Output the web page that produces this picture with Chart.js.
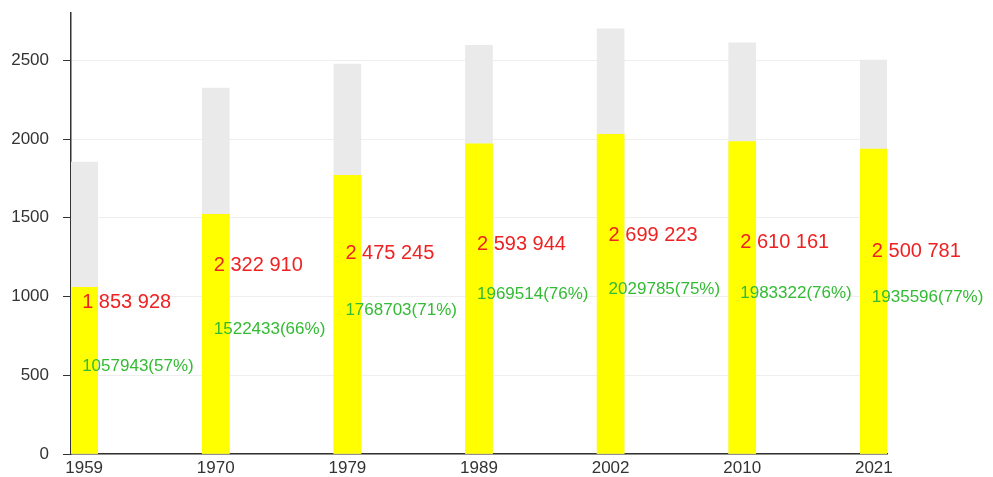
<!DOCTYPE html>
<html>
<head>
<meta charset="utf-8">
<script src="https://cdn.jsdelivr.net/npm/chart.js@4/dist/chart.umd.min.js"></script>
<style>
  html, body { margin: 0; padding: 0; background: #fff; }
  #wrap { width: 993px; height: 477px; }
</style>
</head>
<body>
<div id="wrap"><canvas id="popChart"></canvas></div>
<script>
// census years, total population, urban population
var years = ["1959", "1970", "1979", "1989", "2002", "2010", "2021"];
var totalPop = [1853928, 2322910, 2475245, 2593944, 2699223, 2610161, 2500781];
var urbanPop = [1057943, 1522433, 1768703, 1969514, 2029785, 1983322, 1935596];
var yTicks = [0, 500, 1000, 1500, 2000, 2500];

var FONT = "'Liberation Sans', Arial, sans-serif";

function spaced(n){
  return String(n).replace(/\B(?=(\d{3})+(?!\d))/g, " ");
}

// red total and green urban labels, drawn at half bar height
var valueLabels = {
  id: "valueLabels",
  afterDatasetsDraw: function(chart){
    var ctx = chart.ctx;
    var xs = chart.scales.x, ys = chart.scales.y;
    ctx.save();
    ctx.textAlign = "left";
    ctx.textBaseline = "alphabetic";
    for (var i = 0; i < years.length; i++){
      var px = xs.getPixelForValue(i) - 2;
      ctx.font = "20px " + FONT;
      ctx.fillStyle = "#ee2222";
      ctx.fillText(spaced(totalPop[i]), px, ys.getPixelForValue(totalPop[i] / 2));
      var pct = Math.round(urbanPop[i] / totalPop[i] * 100);
      ctx.font = "17px " + FONT;
      ctx.fillStyle = "#33bb33";
      ctx.fillText(urbanPop[i] + "(" + pct + "%)", px, ys.getPixelForValue(urbanPop[i] / 2));
    }
    ctx.restore();
  }
};

new Chart(document.getElementById("popChart"), {
  type: "bar",
  data: {
    datasets: [
      {
        label: "urban",
        data: urbanPop.map(function(v, i){ return {x: i, y: v}; }),
        backgroundColor: "#ffff00",
        barThickness: 27,
        grouped: false
      },
      {
        label: "total",
        data: totalPop.map(function(v, i){ return {x: i, y: v}; }),
        backgroundColor: "#eaeaea",
        barThickness: 27,
        grouped: false
      }
    ]
  },
  options: {
    responsive: true,
    maintainAspectRatio: false,
    animation: false,
    layout: { padding: { top: 13, right: 106, left: 0, bottom: 0 } },
    plugins: {
      legend: { display: false },
      tooltip: { enabled: false }
    },
    scales: {
      x: {
        type: "linear",
        offset: false,
        min: -0.1,
        max: 6.1,
        afterBuildTicks: function(scale){
          scale.ticks = years.map(function(y, i){ return {value: i}; });
        },
        afterFit: function(scale){ scale.height = 23; },
        grid: { display: false, drawTicks: false },
        border: { display: true, color: "#333", width: 1.5 },
        ticks: {
          padding: 4,
          color: "#333",
          font: { family: FONT, size: 17 },
          maxRotation: 0,
          autoSkip: false,
          callback: function(v){ return years[v]; }
        }
      },
      y: {
        min: 0,
        max: 2800000,
        afterBuildTicks: function(scale){
          scale.ticks = yTicks.map(function(t){ return {value: t * 1000}; });
        },
        afterFit: function(scale){
          scale.width = 71;
          scale.paddingTop = 0;
          scale.paddingBottom = 0;
        },
        grid: { color: "#eeeeee", tickColor: "#333", tickLength: 8 },
        border: { display: true, color: "#333", width: 1.5 },
        ticks: {
          padding: 14,
          color: "#333",
          font: { family: FONT, size: 17 },
          callback: function(v){ return String(v / 1000); }
        }
      }
    }
  },
  plugins: [valueLabels]
});
</script>
</body>
</html>
